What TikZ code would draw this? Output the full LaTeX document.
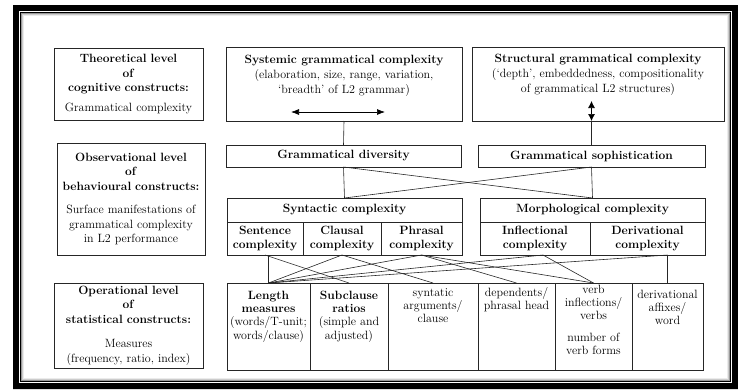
\documentclass[tikz,border=0pt]{standalone}
\usepackage{tikz}
\usetikzlibrary{positioning,arrows.meta}
\tikzset{
  level box/.style={draw=black!85, line width=0.7pt, inner sep=0pt, outer sep=0pt, align=center,
    font=\fontsize{12}{14.5}\selectfont},
  cell/.style={level box, minimum height=33pt, font=\fontsize{12}{14}\selectfont},
  head cell/.style={level box, minimum height=24pt},
  measure box/.style={level box, minimum height=87pt, anchor=north west},
  box text/.style={inner sep=0pt, align=center, font=\fontsize{12}{13.2}\selectfont},
  link/.style={draw=black!85, line width=0.6pt}
}

\begin{document}
\begin{tikzpicture}[x=1pt, y=-1pt]
  \useasboundingbox (0,0) rectangle (738,389);
  % frame
  \fill[even odd rule] (13,5) rectangle (738,389) (19,11) rectangle (732,383);
  \draw[white, line width=0.8pt] (19.4,11.4) rectangle (731.6,382.6);
  \draw[line width=1pt] (20.3,12.3) rectangle (730.7,381.7);
  \draw[black!40, line width=1pt] (21.3,13.3) rectangle (729.7,380.7);
  \draw[black!20, line width=1pt] (22.3,14.3) rectangle (728.7,379.7);
  \draw[black!8, line width=1pt] (23.3,15.3) rectangle (727.7,378.7);

  % levels
  \node[level box, text width=149pt, minimum height=72pt, anchor=north west] (theo) at (54,48)
    {\textbf{Theoretical level}\\ \textbf{of}\\ \textbf{cognitive constructs:}\\[5pt] Grammatical complexity};
  \node[level box, text width=148pt, minimum height=112pt, anchor=north west] (obs) at (57,143)
    {\textbf{Observational level}\\ \textbf{of}\\ \textbf{behavioural constructs:}\\[9pt] Surface manifestations of\\ grammatical complexity\\ in L2 performance};
  \node[level box, text width=149pt, minimum height=85pt, anchor=north west] (oper) at (54,283)
    {\textbf{Operational level}\\ \textbf{of}\\ \textbf{statistical constructs:}\\[10pt] Measures\\ (frequency, ratio, index)};

  % top row
  \node[level box, minimum width=236pt, minimum height=74pt, anchor=north west] (sys) at (226,47) {};
  \node[box text, font=\fontsize{12}{15}\selectfont, below=8pt of sys.north] (systxt)
    {\textbf{Systemic grammatical complexity}\\ (elaboration, size, range, variation,\\ ‘breadth’ of L2 grammar)};
  \node[level box, minimum width=252pt, minimum height=74pt, anchor=north west] (struc) at (472,47) {};
  \node[box text, font=\fontsize{12}{15}\selectfont, below=7pt of struc.north] (structxt)
    {\textbf{Structural grammatical complexity}\\ (‘depth’, embeddedness, compositionality\\ of grammatical L2 structures)};

  \node[level box, minimum width=235pt, minimum height=22pt, anchor=north west] (div) at (226,145) {\textbf{Grammatical diversity}};
  \node[level box, minimum width=227pt, minimum height=22pt, anchor=north west] (soph) at (478,145) {\textbf{Grammatical sophistication}};

  % syntactic and morphological
  \node[head cell, minimum width=235pt, anchor=north west] (syn) at (227,198) {\textbf{Syntactic complexity}};
  \node[cell, minimum width=76pt, below right=0pt and 0pt of syn.south west] (sent) {\textbf{Sentence}\\ \textbf{complexity}};
  \node[cell, minimum width=78pt, right=0pt of sent] (claus) {\textbf{Clausal}\\ \textbf{complexity}};
  \node[cell, minimum width=81pt, right=0pt of claus] (phras) {\textbf{Phrasal}\\ \textbf{complexity}};
  \node[head cell, minimum width=225pt, anchor=north west] (morph) at (480,198) {\textbf{Morphological complexity}};
  \node[cell, minimum width=110pt, below right=0pt and 0pt of morph.south west] (infl) {\textbf{Inflectional}\\ \textbf{complexity}};
  \node[cell, minimum width=115pt, right=0pt of infl] (der) {\textbf{Derivational}\\ \textbf{complexity}};

  % measures
  \node[measure box, minimum width=83pt] (len) at (227,283) {};
  \node[measure box, minimum width=78pt, right=0pt of len] (sub) {};
  \node[measure box, minimum width=90pt, right=0pt of sub] (arg) {};
  \node[measure box, minimum width=77pt, right=0pt of arg] (dep) {};
  \node[measure box, minimum width=77pt, right=0pt of dep] (verb) {};
  \node[measure box, minimum width=71pt, right=0pt of verb] (deraff) {};
  \node[box text, below=8pt of len.north] (lentxt) {\textbf{Length}\\ \textbf{measures}\\ (words/T-unit;\\ words/clause)};
  \node[box text, below=8pt of sub.north] (subtxt) {\textbf{Subclause}\\ \textbf{ratios}\\ (simple and\\ adjusted)};
  \node[box text, below=5pt of arg.north] (argtxt) {syntatic\\ arguments/\\ clause};
  \node[box text, below=4pt of dep.north] (deptxt) {dependents/\\ phrasal head};
  \node[box text, below=1.5pt of verb.north] (verbtxt) {verb\\ inflections/\\ verbs\\[9pt] number of\\ verb forms};
  \node[box text, below=7pt of deraff.north] (deraftxt) {derivational\\ affixes/\\ word};

  % arrows inside the top boxes
  \coordinate (sysl) at ([xshift=-53pt, yshift=9pt]sys.south);
  \coordinate (sysr) at ([xshift=41pt, yshift=9pt]sys.south);
  \coordinate (strucbot) at (soph.north |- struc.south);
  \coordinate (strucarr) at ([yshift=20pt]strucbot);
  \draw[line width=0.7pt, {Latex[length=8pt,width=6pt]}-{Latex[length=8pt,width=6pt]}] (sysl) -- (sysr);
  \draw[line width=0.7pt, {Latex[length=7pt,width=7pt]}-{Latex[length=7pt,width=7pt]}] (strucarr) -- (strucbot);

  \coordinate (lenfoot) at (len.north |- sent.south);
  \coordinate (derfoot) at (deraff.north |- der.south);

  \path[link]
  (sys.south) edge (div.north)
  (strucbot) edge (soph.north)
  (div.south) edge (syn.north)
  (div.south) edge (morph.north)
  (soph.south) edge (syn.north)
  (soph.south) edge (morph.north)
  (lenfoot) edge (len.north)
  (sent.south) edge (sub.north)
  (claus.south) edge (len.north)
  (claus.south) edge (arg.north)
  (phras.south) edge (len.north)
  (phras.south) edge (dep.north)
  (phras.south) edge (verb.north)
  ([xshift=8pt]infl.south) edge (len.north)
  ([xshift=8pt]infl.south) edge (verb.north)
  (derfoot) edge (len.north)
  (derfoot) edge (deraff.north);
\end{tikzpicture}
\end{document}
